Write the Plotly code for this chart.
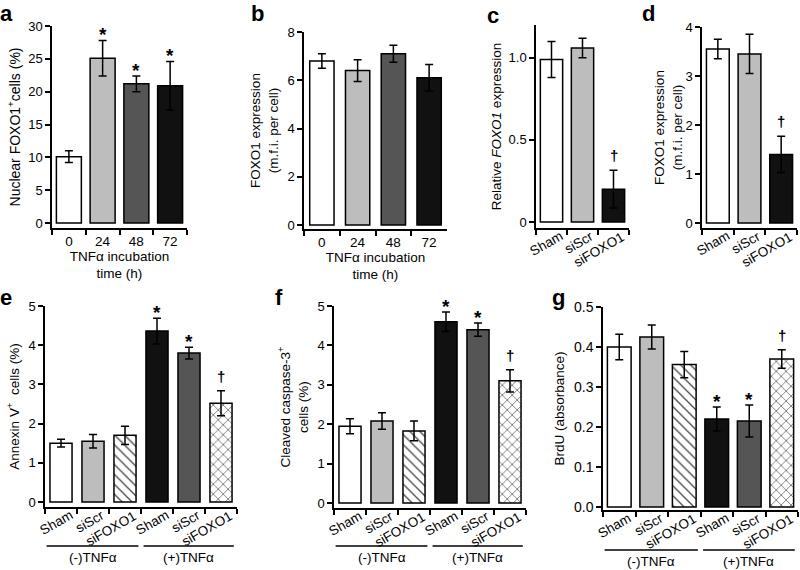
import plotly.graph_objects as go

W, H = 800, 570

# %% data
time_h = ["0", "24", "48", "72"]
nuclear_foxo1 = [10.1, 25.1, 21.2, 20.9]
nuclear_foxo1_err = [0.9, 2.7, 1.2, 3.7]
nuclear_marks = ["", "*", "*", "*"]

foxo1_mfi_time = [6.8, 6.4, 7.1, 6.1]
foxo1_mfi_time_err = [0.3, 0.45, 0.35, 0.55]
no_marks_time = ["", "", "", ""]

kd_groups = ["Sham", "siScr", "siFOXO1"]
rel_foxo1 = [0.99, 1.06, 0.20]
rel_foxo1_err = [0.11, 0.06, 0.115]
kd_marks = ["", "", "†"]

foxo1_mfi_kd = [3.55, 3.45, 1.40]
foxo1_mfi_kd_err = [0.20, 0.40, 0.37]

tnf_conditions = ["Sham", "siScr", "siFOXO1", "Sham", "siScr", "siFOXO1"]
tnf_groups = ["(-)TNFα", "(+)TNFα"]
tnf_marks = ["", "", "", "*", "*", "†"]

annexin = [1.50, 1.55, 1.70, 4.36, 3.80, 2.52]
annexin_err = [0.10, 0.17, 0.23, 0.33, 0.15, 0.32]
caspase = [1.95, 2.08, 1.83, 4.60, 4.40, 3.10]
caspase_err = [0.19, 0.21, 0.25, 0.25, 0.17, 0.28]
brdu = [0.400, 0.425, 0.356, 0.220, 0.215, 0.370]
brdu_err = [0.032, 0.030, 0.033, 0.030, 0.040, 0.023]

# %% styles
WHITE, LIGHT, DARK, BLACK = "white", "#bdbdbd", "#555555", "#111111"
time_colors = [WHITE, LIGHT, DARK, BLACK]
kd_colors = [WHITE, LIGHT, BLACK]
tnf_colors = [WHITE, LIGHT, WHITE, BLACK, DARK, WHITE]
tnf_patterns = ["", "", "\\", "", "", "x"]

FONT = "Liberation Sans, Arial, sans-serif"

fig = go.Figure()
annotations = []
shapes = []


def xdom(x0, x1):
    return [x0 / W, x1 / W]


def ypaper(y):
    return 1 - y / H


def panel(n, xpx, ypx, ymax, cats, vals, errs, colors, marks, ytitle,
          ytickvals=None, yticktext=None, bar_width=0.72, patterns=None,
          rotated=False, xtitle=None, ytick_size=13, ytitle_standoff=6,
          ytitle_size=13.5):
    sfx = "" if n == 1 else str(n)
    xa, ya = "x" + sfx, "y" + sfx
    top, zero, bot = ypx
    pxu = (zero - top) / ymax
    ymin = -(bot - zero) / pxu

    marker = dict(color=colors, line=dict(color="black", width=1.5))
    if patterns:
        marker["pattern"] = dict(shape=patterns, fgcolor="black", bgcolor="white",
                                 fgopacity=1, size=7, solidity=0.18)

    idx = list(range(len(cats)))
    fig.add_trace(go.Bar(
        x=idx if rotated else cats, y=vals, width=bar_width, marker=marker,
        error_y=dict(type="data", array=errs, color="black", thickness=1.5, width=4),
        xaxis=xa, yaxis=ya, showlegend=False, hoverinfo="skip"))

    axis_common = dict(showline=True, linecolor="black", linewidth=1.5,
                       ticks="outside", ticklen=5, tickwidth=1.5, tickcolor="black",
                       showgrid=False, zeroline=False, fixedrange=True,
                       automargin=False)

    if rotated:
        xaxis = dict(axis_common, type="linear", domain=xdom(*xpx), anchor=ya,
                     range=[-0.5, len(cats) - 0.5],
                     tickvals=[i - 0.5 for i in range(len(cats) + 1)],
                     showticklabels=False)
        # slanted category labels, right end tucked under each boundary tick
        for i, c in enumerate(cats):
            annotations.append(dict(
                x=i + 0.5, y=ypaper(bot - 2), xref=xa, yref="paper", text=c,
                textangle=-30, xanchor="right", yanchor="top", showarrow=False,
                xshift=1, font=dict(size=13.5, color="black")))
    else:
        xaxis = dict(axis_common, type="category", domain=xdom(*xpx), anchor=ya,
                     range=[-0.5, len(cats) - 0.5],
                     tickson="boundaries", tickfont=dict(size=13.5, color="black"))
    if xtitle:
        xaxis["title"] = dict(text=xtitle, font=dict(size=13.5, color="black"), standoff=2)

    yaxis = dict(axis_common, domain=[ypaper(bot), ypaper(top)], anchor=xa,
                 range=[ymin, ymax], tickfont=dict(size=ytick_size, color="black"),
                 title=dict(text=ytitle, font=dict(size=ytitle_size, color="black"),
                            standoff=ytitle_standoff))
    if ytickvals is not None:
        yaxis["tickvals"] = ytickvals
        yaxis["ticktext"] = yticktext
    fig.layout["xaxis" + sfx] = xaxis
    fig.layout["yaxis" + sfx] = yaxis

    # significance marks; numeric positions work for both axis types
    for i, m in enumerate(marks):
        if not m:
            continue
        star = m == "*"
        annotations.append(dict(
            x=i, y=vals[i] + errs[i], xref=xa, yref=ya,
            text="<b>%s</b>" % m,
            showarrow=False, yanchor="bottom",
            yshift=-7 if star else 4,
            font=dict(size=19 if star else 15, color="#000000")))


panel(1, (52, 187), (26, 223, 228), 30, time_h, nuclear_foxo1, nuclear_foxo1_err,
      time_colors, nuclear_marks, "Nuclear FOXO1<sup>+</sup>cells (%)",
      ytickvals=[0, 5, 10, 15, 20, 25, 30], yticktext=["0", "5", "10", "15", "20", "25", "30"],
      bar_width=0.74, xtitle="TNFα incubation<br>time (h)", ytitle_size=14,
      ytitle_standoff=4)
panel(2, (304, 447), (32, 225, 229), 8, time_h, foxo1_mfi_time, foxo1_mfi_time_err,
      time_colors, no_marks_time, "FOXO1 expression<br>(m.f.i. per cell)",
      ytickvals=[0, 2, 4, 6, 8], yticktext=["0", "2", "4", "6", "8"],
      bar_width=0.68, xtitle="TNFα incubation<br>time (h)")
panel(3, (536, 629), (25, 222, 228), 1.2, kd_groups, rel_foxo1, rel_foxo1_err,
      kd_colors, kd_marks, "Relative <i>FOXO1</i> expression",
      ytickvals=[0, 0.5, 1.0], yticktext=["0", "0.5", "1.0"], rotated=True,
      ytitle_standoff=4)
panel(4, (702, 797), (27, 223, 228), 4, kd_groups, foxo1_mfi_kd, foxo1_mfi_kd_err,
      kd_colors, kd_marks, "FOXO1 expression<br>(m.f.i. per cell)",
      ytickvals=[0, 1, 2, 3, 4], yticktext=["0", "1", "2", "3", "4"], rotated=True,
      ytitle_standoff=0)
panel(5, (45, 237), (306, 502, 507), 5, tnf_conditions, annexin, annexin_err,
      tnf_colors, tnf_marks, "Annexin V<sup>+</sup>  cells (%)",
      ytickvals=[0, 1, 2, 3, 4, 5], yticktext=["0", "1", "2", "3", "4", "5"],
      bar_width=0.69, patterns=tnf_patterns, rotated=True)
panel(6, (334, 526), (306, 503, 508), 5, tnf_conditions, caspase, caspase_err,
      tnf_colors, tnf_marks, "Cleaved caspase-3<sup>+</sup><br>cells (%)",
      ytickvals=[0, 1, 2, 3, 4, 5], yticktext=["0", "1", "2", "3", "4", "5"],
      bar_width=0.69, patterns=tnf_patterns, rotated=True)
panel(7, (603, 798), (307, 507, 510), 0.5, tnf_conditions, brdu, brdu_err,
      tnf_colors, tnf_marks, "BrdU (absorbance)",
      ytickvals=[0, 0.1, 0.2, 0.3, 0.4, 0.5],
      yticktext=["0.0", "0.1", "0.2", "0.3", "0.4", "0.5"],
      bar_width=0.73, patterns=tnf_patterns, rotated=True, ytick_size=14)

# group brackets under e, f, g
for n, line_y, text_y in [(5, 546, 557), (6, 546, 557), (7, 550, 561)]:
    spans = [(-0.45, 2.42), (2.58, 5.4)]
    for (x0, x1), grp in zip(spans, tnf_groups):
        shapes.append(dict(type="line", xref="x%d" % n, yref="paper",
                           x0=x0, x1=x1, y0=ypaper(line_y), y1=ypaper(line_y),
                           line=dict(color="black", width=1.5)))
        annotations.append(dict(x=(x0 + x1) / 2, y=ypaper(text_y), xref="x%d" % n,
                                yref="paper", yanchor="middle", text=grp,
                                showarrow=False, font=dict(size=13.5, color="black")))

# panel letters
for letter, px, py in [("a", -2, -1), ("b", 249, -1), ("c", 485, 1), ("d", 640, -1),
                       ("e", -2, 283), ("f", 273, 283), ("g", 550, 283)]:
    annotations.append(dict(x=px / W, y=ypaper(py), xref="paper", yref="paper",
                            text="<b>%s</b>" % letter, showarrow=False,
                            xanchor="left", yanchor="top",
                            font=dict(size=22, color="black")))

fig.update_layout(
    width=W, height=H,
    margin=dict(l=0, r=0, t=0, b=0),
    paper_bgcolor="white", plot_bgcolor="white",
    font=dict(family=FONT, color="black"),
    annotations=annotations, shapes=shapes,
    bargap=0.3,
)

# the page body has an 8px default margin; drop it so the figure fills the window
fig.write_html("out.html", config={"displayModeBar": False},
               post_script="document.body.style.margin = '0';")
